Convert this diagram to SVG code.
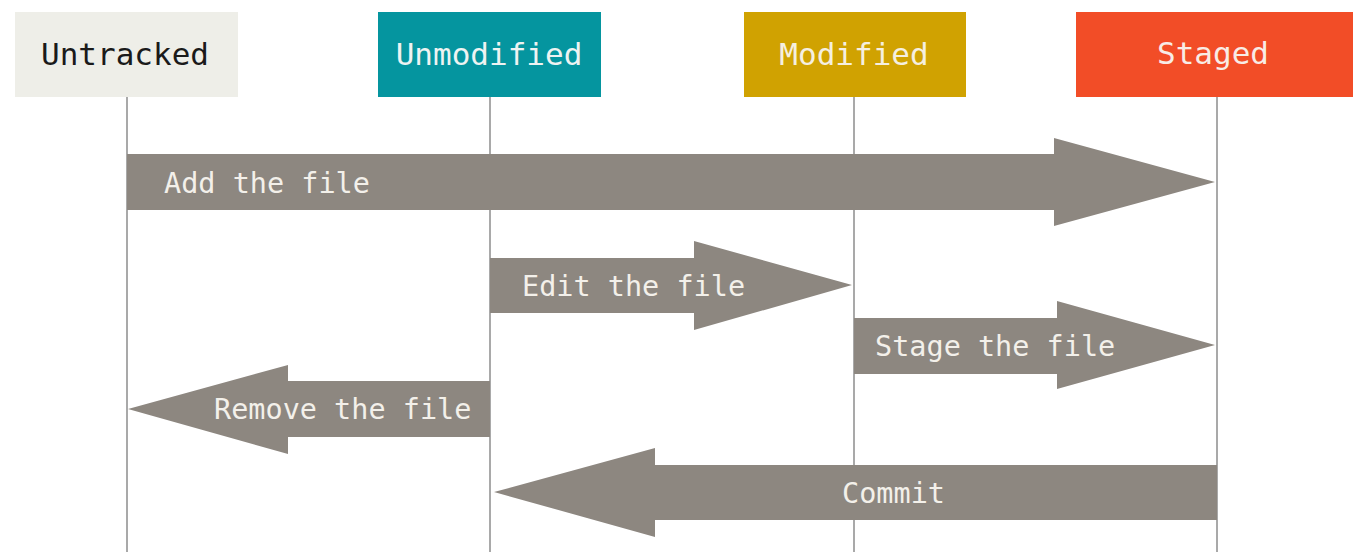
<svg xmlns="http://www.w3.org/2000/svg" width="1368" height="552" viewBox="0 0 1368 552">
  <style>
    .lifeline { stroke: #a9a9a9; stroke-width: 2; fill: none; }
    .arrow { fill: #8d8780; }
    .state-label { font-family: "DejaVu Sans Mono", "Liberation Mono", monospace; font-size: 31px; text-anchor: middle; }
    .arrow-label { font-family: "DejaVu Sans Mono", "Liberation Mono", monospace; font-size: 28.5px; fill: #f3f0ea; }
  </style>
  <rect width="1368" height="552" fill="#ffffff"/>

  <!-- vertical lifelines under each state -->
  <g id="lifelines">
    <line class="lifeline" x1="127" y1="96" x2="127" y2="552"/>
    <line class="lifeline" x1="490" y1="96" x2="490" y2="552"/>
    <line class="lifeline" x1="854" y1="96" x2="854" y2="552"/>
    <line class="lifeline" x1="1217" y1="96" x2="1217" y2="552"/>
  </g>

  <!-- state headers -->
  <g id="untracked">
    <rect x="15" y="12" width="223" height="85" fill="#eeeee8"/>
    <text class="state-label" x="125" y="65" fill="#1a1a1a">Untracked</text>
  </g>
  <g id="unmodified">
    <rect x="378" y="12" width="223" height="85" fill="#05959f"/>
    <text class="state-label" x="489" y="65" fill="#eef3f2">Unmodified</text>
  </g>
  <g id="modified">
    <rect x="744" y="12" width="222" height="85" fill="#d0a201"/>
    <text class="state-label" x="854" y="65" fill="#f5efe0">Modified</text>
  </g>
  <g id="staged">
    <rect x="1076" y="12" width="277" height="85" fill="#f24d27"/>
    <text class="state-label" x="1213" y="64" fill="#f8ece6">Staged</text>
  </g>

  <!-- transitions between states -->
  <g id="connectors">
    <g id="add-the-file">
      <polygon class="arrow" points="127,154 1054,154 1054,138 1215,182 1054,226 1054,210 127,210"/>
      <text class="arrow-label" x="164" y="193">Add the file</text>
    </g>
    <g id="edit-the-file">
      <polygon class="arrow" points="490,258 694,258 694,241 852,285 694,330 694,313 490,313"/>
      <text class="arrow-label" x="522" y="296">Edit the file</text>
    </g>
    <g id="stage-the-file">
      <polygon class="arrow" points="854,318 1057,318 1057,301 1215,345 1057,389 1057,374 854,374"/>
      <text class="arrow-label" x="875" y="356">Stage the file</text>
    </g>
    <g id="remove-the-file">
      <polygon class="arrow" points="490,381 288,381 288,365 128,409 288,454 288,437 490,437"/>
      <text class="arrow-label" x="214" y="419">Remove the file</text>
    </g>
    <g id="commit">
      <polygon class="arrow" points="1217,465 655,465 655,448 494,492 655,537 655,520 1217,520"/>
      <text class="arrow-label" x="842" y="503">Commit</text>
    </g>
  </g>
</svg>
